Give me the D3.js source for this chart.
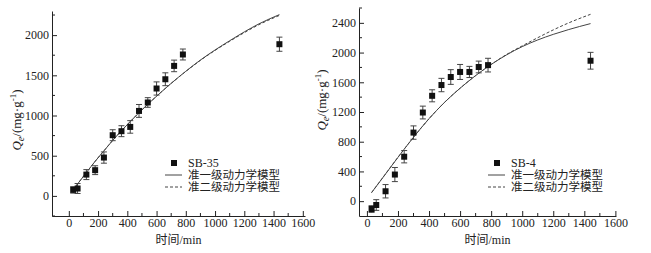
<!DOCTYPE html>
<html>
<head>
<meta charset="utf-8">
<script src="https://cdn.jsdelivr.net/npm/d3@7"></script>
<style>
  body { margin: 0; background: #fff; }
  text { font-family: "Liberation Serif", "Noto Sans CJK SC", serif; fill: #222; }
</style>
</head>
<body>
<div id="chart"></div>
<script>
// sampling times (min) and measured uptake
var times = [30, 60, 120, 180, 240, 300, 360, 420, 480, 540, 600, 660, 720, 780, 1440];
var sb35Q = [75, 92, 265, 320, 477, 755, 805, 858, 1057, 1162, 1336, 1451, 1617, 1759, 1887];
var sb35Err = [40, 62, 62, 55, 70, 68, 68, 78, 80, 60, 82, 80, 72, 68, 88];
var sb4Q = [-106, -52, 133, 358, 598, 923, 1193, 1418, 1563, 1671, 1739, 1739, 1806, 1831, 1890];
var sb4Err = [45, 72, 90, 95, 83, 90, 86, 81, 90, 99, 101, 75, 79, 92, 113];

// fitted curves
var fitT35 = [50, 120, 180, 240, 300, 360, 420, 480, 540, 600, 700, 800, 900, 1000, 1100, 1200, 1300, 1440];
var pfo35 = [125, 290, 430, 560, 690, 810, 925, 1035, 1140, 1240, 1400, 1550, 1690, 1815, 1930, 2040, 2140, 2255];
var pso35 = [125, 290, 430, 560, 690, 810, 925, 1035, 1140, 1240, 1400, 1548, 1686, 1810, 1923, 2031, 2130, 2245];
var fitT4 = [30, 100, 200, 300, 400, 500, 600, 700, 800, 900, 1000, 1100, 1200, 1300, 1440];
var pfo4 = [115, 310, 590, 860, 1110, 1330, 1520, 1690, 1840, 1970, 2080, 2170, 2245, 2310, 2390];
var pso4 = [115, 310, 590, 860, 1110, 1330, 1520, 1690, 1840, 1975, 2090, 2200, 2305, 2400, 2515];

var xTicks = [0, 200, 400, 600, 800, 1000, 1200, 1400, 1600];
var yTicks35 = [0, 500, 1000, 1500, 2000];
var yTicks4 = [0, 400, 800, 1200, 1600, 2000, 2400];

var w = 651, h = 253;
var svg = d3.select('#chart').append('svg')
  .attr('width', w).attr('height', h);

function panel(opt) {
  var x = d3.scaleLinear().domain(opt.xDomain).range([opt.left, opt.right]);
  var y = d3.scaleLinear().domain(opt.yDomain).range([opt.bottom, opt.top]);
  var g = svg.append('g');

  // x axis, ticks pointing inward
  var xMinor = d3.range(0, 1601, 100).filter(v => xTicks.indexOf(v) < 0);
  var xa = g.append('g').attr('transform', 'translate(0,' + opt.bottom + ')');
  xa.call(d3.axisBottom(x).tickValues(xTicks).tickSizeInner(-5).tickSizeOuter(0).tickPadding(2).tickFormat(d3.format('d')));
  xa.append('g').selectAll('line').data(xMinor).join('line')
    .attr('x1', d => x(d)).attr('x2', d => x(d)).attr('y1', 0).attr('y2', -3)
    .attr('stroke', '#222');

  var ya = g.append('g').attr('transform', 'translate(' + opt.left + ',0)');
  ya.call(d3.axisLeft(y).tickValues(opt.yTicks).tickSizeInner(-5).tickSizeOuter(0).tickPadding(3).tickFormat(d3.format('d')));
  ya.append('g').selectAll('line').data(opt.yMinor).join('line')
    .attr('x1', 0).attr('x2', 3).attr('y1', d => y(d)).attr('y2', d => y(d))
    .attr('stroke', '#222');

  g.selectAll('.domain').attr('stroke', '#222');
  g.selectAll('.tick line').attr('stroke', '#222');
  g.selectAll('.tick text').attr('font-size', 12).attr('fill', '#222')
    .attr('font-family', '"Liberation Serif", serif');

  // curves
  var line = d3.line().x(d => x(d[0])).y(d => y(d[1])).curve(d3.curveMonotoneX);
  g.append('path').datum(d3.zip(opt.fitT, opt.pfo)).attr('d', line)
    .attr('fill', 'none').attr('stroke', '#444').attr('stroke-width', 1);
  g.append('path').datum(d3.zip(opt.fitT, opt.pso)).attr('d', line)
    .attr('fill', 'none').attr('stroke', '#444').attr('stroke-width', 1)
    .attr('stroke-dasharray', '3,2');

  // error bars + points
  var pts = d3.zip(times, opt.q, opt.err);
  var eb = g.append('g').attr('stroke', '#444').attr('stroke-width', 1);
  eb.selectAll('.v').data(pts).join('line')
    .attr('x1', d => x(d[0])).attr('x2', d => x(d[0]))
    .attr('y1', d => y(d[1] - d[2])).attr('y2', d => y(d[1] + d[2]));
  eb.selectAll('.t').data(pts).join('line')
    .attr('x1', d => x(d[0]) - 3).attr('x2', d => x(d[0]) + 3)
    .attr('y1', d => y(d[1] + d[2])).attr('y2', d => y(d[1] + d[2]));
  eb.selectAll('.b').data(pts).join('line')
    .attr('x1', d => x(d[0]) - 3).attr('x2', d => x(d[0]) + 3)
    .attr('y1', d => y(d[1] - d[2])).attr('y2', d => y(d[1] - d[2]));
  g.append('g').selectAll('rect').data(pts).join('rect')
    .attr('x', d => x(d[0]) - 3).attr('y', d => y(d[1]) - 3)
    .attr('width', 6).attr('height', 6).attr('fill', '#111');

  // axis titles
  var cx = (opt.left + opt.right) / 2;
  g.append('text').attr('x', cx).attr('y', 244).attr('text-anchor', 'middle')
    .attr('font-size', 12).text('时间/min');

  var yt = g.append('text')
    .attr('transform', 'translate(' + opt.yLabelX + ',' + opt.yLabelY + ') rotate(-90)')
    .attr('text-anchor', 'middle').attr('font-size', 13);
  yt.append('tspan').attr('font-style', 'italic').text('Q');
  yt.append('tspan').attr('font-style', 'italic').attr('font-size', 10).attr('dy', 3).text('e');
  yt.append('tspan').attr('dy', -3).text('/(mg·g');
  yt.append('tspan').attr('font-size', 9).attr('dy', -5).text('-1');
  yt.append('tspan').attr('dy', 5).text(')');

  // legend
  var lx = opt.legX, ly = opt.legY;
  g.append('rect').attr('x', lx + 6).attr('y', ly - 3).attr('width', 6).attr('height', 6).attr('fill', '#111');
  g.append('text').attr('x', lx + 23).attr('y', ly + 4).attr('font-size', 12).text(opt.name);
  g.append('line').attr('x1', lx).attr('x2', lx + 17).attr('y1', ly + 12).attr('y2', ly + 12)
    .attr('stroke', '#444');
  g.append('text').attr('x', lx + 23).attr('y', ly + 16).attr('font-size', 11.5).text('准一级动力学模型');
  g.append('line').attr('x1', lx).attr('x2', lx + 17).attr('y1', ly + 24).attr('y2', ly + 24)
    .attr('stroke', '#444').attr('stroke-dasharray', '3,2');
  g.append('text').attr('x', lx + 23).attr('y', ly + 28).attr('font-size', 11.5).text('准二级动力学模型');
}

panel({
  left: 52, right: 305, top: 11, bottom: 216,
  xDomain: [-115, 1615], yDomain: [-250, 2300],
  yTicks: yTicks35, yMinor: [-250, 250, 750, 1250, 1750, 2250],
  q: sb35Q, err: sb35Err, fitT: fitT35, pfo: pfo35, pso: pso35,
  name: 'SB-35', legX: 165, legY: 163, yLabelX: 21, yLabelY: 120
});

panel({
  left: 359, right: 616, top: 8, bottom: 216,
  xDomain: [-51, 1604], yDomain: [-200, 2600],
  yTicks: yTicks4, yMinor: [200, 600, 1000, 1400, 1800, 2200, 2600],
  q: sb4Q, err: sb4Err, fitT: fitT4, pfo: pfo4, pso: pso4,
  name: 'SB-4', legX: 488, legY: 163, yLabelX: 326, yLabelY: 100
});
</script>
</body>
</html>
